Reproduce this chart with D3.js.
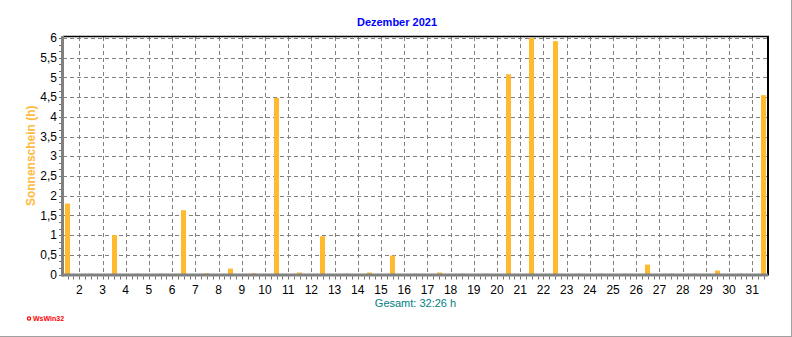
<!DOCTYPE html>
<html><head><meta charset="utf-8">
<script src="https://cdn.jsdelivr.net/npm/d3@7"></script>
<style>
html,body{margin:0;padding:0;background:#fff;}
svg{display:block;}
text{font-family:Arial,"Liberation Sans",sans-serif;}
</style></head>
<body>
<script>
const title = "Dezember 2021";
const yLabel = "Sonnenschein (h)";
const xLabel = "Gesamt: 32:26 h";
const days = d3.range(1, 32);
const sunshine = [1.8,0.02,1.0,0.02,0.02,1.63,0.03,0.15,0.03,4.48,0.05,0.97,0.02,0.05,0.48,0.02,0.05,0.02,0.02,5.08,6.0,5.92,0.02,0.02,0.02,0.25,0.02,0.02,0.1,0.02,4.55];
const yTicks = [0,0.5,1,1.5,2,2.5,3,3.5,4,4.5,5,5.5,6];
const xTicks = d3.range(2, 32);

const W = 792, H = 337;
const svg = d3.select("body").append("svg").attr("width", W).attr("height", H);

const L = 63, R = 768, T = 37, B = 274.5;
const step = (752.3 - 79.3) / 29;
const x = d3.scaleLinear().domain([2 - (79.3 - L) / step, 31 + (R - 752.3) / step]).range([L, R]);
const y = d3.scaleLinear().domain([0, 6]).range([B, 38]);

// frame
svg.append("line").attr("x1", W - 0.5).attr("x2", W - 0.5).attr("y1", 0).attr("y2", H).attr("stroke", "#a0a0a0");
svg.append("line").attr("x1", 0).attr("x2", W).attr("y1", H - 0.5).attr("y2", H - 0.5).attr("stroke", "#a0a0a0");

// grid
const grid = svg.append("g").attr("stroke", "#808080").attr("stroke-dasharray", "4,3").attr("stroke-width", 1);
grid.selectAll("line.h").data(yTicks.filter(v => v > 0)).join("line")
  .attr("x1", L).attr("x2", R).attr("y1", d => Math.round(y(d)) + 0.5).attr("y2", d => Math.round(y(d)) + 0.5);
grid.selectAll("line.v").data(xTicks).join("line")
  .attr("x1", d => Math.round(x(d)) + 0.5).attr("x2", d => Math.round(x(d)) + 0.5).attr("y1", T).attr("y2", B);

// bars
svg.append("g").attr("fill", "#FFBA30").selectAll("rect").data(days).join("rect")
  .attr("x", (d) => Math.round(x(d + 0.5) - 2.5))
  .attr("width", 5)
  .attr("y", (d, i) => y(sunshine[i]))
  .attr("height", (d, i) => Math.max(1, B - y(sunshine[i])));

// borders
svg.append("line").attr("x1", L).attr("x2", R + 1).attr("y1", T - 0.5).attr("y2", T - 0.5).attr("stroke", "#000").attr("stroke-width", 1.5);
svg.append("line").attr("x1", R).attr("x2", R).attr("y1", T - 1).attr("y2", B + 1).attr("stroke", "#000").attr("stroke-width", 2);
svg.append("line").attr("x1", L - 1).attr("x2", R).attr("y1", B + 0.5).attr("y2", B + 0.5).attr("stroke", "#808080").attr("stroke-width", 3);
svg.append("line").attr("x1", L - 0.5).attr("x2", L - 0.5).attr("y1", T - 1).attr("y2", B + 2).attr("stroke", "#808080").attr("stroke-width", 3);

// minor ticks
const xMinor = d3.range(Math.ceil(x.domain()[0] * 4), Math.floor(x.domain()[1] * 4) + 1).map(v => v / 4);
svg.append("g").attr("stroke", "#707070").selectAll("line").data(xMinor).join("line")
  .attr("x1", d => Math.round(x(d)) + 0.5).attr("x2", d => Math.round(x(d)) + 0.5)
  .attr("y1", B + 2).attr("y2", B + 5);
const yMinor = d3.range(0, 37).map(v => v / 6);
svg.append("g").attr("stroke", "#707070").selectAll("line").data(yMinor).join("line")
  .attr("x1", L - 4).attr("x2", L - 2)
  .attr("y1", d => Math.round(y(d)) + 0.5).attr("y2", d => Math.round(y(d)) + 0.5);

// tick labels
svg.append("g").selectAll("text").data(yTicks).join("text")
  .attr("x", 57).attr("y", d => y(d)).attr("dy", "0.35em")
  .attr("text-anchor", "end").attr("font-size", 12).attr("fill", "#000")
  .text(d => String(d).replace(".", ","));
svg.append("g").selectAll("text").data(xTicks).join("text")
  .attr("x", d => x(d)).attr("y", 290).attr("dy", "0.35em")
  .attr("text-anchor", "middle").attr("font-size", 12).attr("fill", "#000")
  .text(d => d);

// titles
svg.append("text").attr("x", 397).attr("y", 22).attr("dy", "0.35em").attr("text-anchor", "middle")
  .attr("font-size", 11).attr("font-weight", "bold").attr("fill", "#0000ff").text(title);
svg.append("text").attr("x", (L + R) / 2).attr("y", 303.5).attr("dy", "0.35em").attr("text-anchor", "middle")
  .attr("font-size", 11).attr("fill", "#008080").text(xLabel);
svg.append("text").attr("transform", `translate(31,${(T + B) / 2}) rotate(-90)`).attr("dy", "0.35em")
  .attr("text-anchor", "middle").attr("font-size", 12).attr("font-weight", "bold").attr("fill", "#FFBA40").text(yLabel);

// logo
svg.append("circle").attr("cx", 29).attr("cy", 318.5).attr("r", 1.6).attr("fill", "none").attr("stroke", "#ff0000").attr("stroke-width", 1.2);
svg.append("text").attr("x", 33).attr("y", 318.5).attr("dy", "0.35em").attr("font-size", 7).attr("font-weight", "bold")
  .attr("fill", "#ff0000").text("WsWin32");
</script>
</body></html>
